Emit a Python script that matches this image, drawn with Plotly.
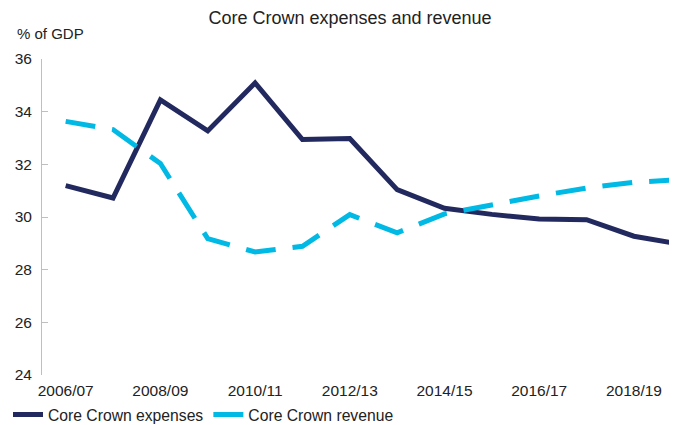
import plotly.graph_objects as go

years = ["2006/07", "2007/08", "2008/09", "2009/10", "2010/11", "2011/12", "2012/13",
         "2013/14", "2014/15", "2015/16", "2016/17", "2017/18", "2018/19", "2019/20"]
expenses = [31.19, 30.72, 34.45, 33.27, 35.09, 32.94, 32.98,
            31.04, 30.33, 30.10, 29.92, 29.90, 29.27, 28.96]
revenue = [33.63, 33.32, 32.03, 29.18, 28.67, 28.89, 30.09,
           29.40, 30.12, 30.48, 30.80, 31.10, 31.32, 31.42]
tick_labels = years[::2]

FONT = "Arial, 'Liberation Sans', sans-serif"
# page body has an 8px margin, so the figure is sized to the visible area
W, H = 669, 417
L, R, T, B = 34, 0, 51, 50
PW, PH = W - L - R, H - T - B

fig = go.Figure()
fig.add_trace(go.Scatter(
    x=years, y=expenses, mode="lines", name="Core Crown expenses",
    line=dict(color="#22295e", width=5),
))
fig.add_trace(go.Scatter(
    x=years, y=revenue, mode="lines", name="Core Crown revenue",
    line=dict(color="#00b9e4", width=5, dash="30px,17px"),
))

fig.update_layout(
    width=W, height=H,
    margin=dict(l=L, r=R, t=T, b=B, autoexpand=False),
    plot_bgcolor="white", paper_bgcolor="white",
    font=dict(family=FONT, size=15.5, color="#222222"),
    title=dict(
        text="Core Crown expenses and revenue",
        font=dict(size=18, color="#222222"),
        x=342 / W, xanchor="center", xref="container",
        y=1 - 3 / H, yanchor="top", yref="container",
        pad=dict(t=0, b=0),
    ),
    showlegend=True,
    legend=dict(
        orientation="h", xref="container", yref="container",
        x=-8.7 / W, xanchor="left",
        y=(H - 406.7) / H, yanchor="middle",
        font=dict(size=15.7, color="#222222"),
        bgcolor="rgba(0,0,0,0)", itemwidth=30,
    ),
    annotations=[dict(
        text="% of GDP", xref="paper", yref="paper",
        x=(7 - L) / PW, xanchor="left",
        y=1 + (T - 25) / PH, yanchor="middle",
        showarrow=False, font=dict(size=15, color="#222222"),
    )],
)

fig.update_xaxes(
    type="category", range=[-0.5, 12.91],
    tickmode="array", tickvals=tick_labels, ticktext=tick_labels,
    showline=False, showgrid=False, ticks="", zeroline=False,
    ticklabelstandoff=4, automargin=False,
)
fig.update_yaxes(
    range=[24, 36], dtick=2, tick0=24,
    showline=True, linecolor="#bfbfbf", linewidth=1,
    ticks="inside", ticklen=6, tickcolor="#bfbfbf", tickwidth=1,
    showgrid=False, zeroline=False, ticklabelstandoff=6, automargin=False,
)

fig.write_html("out.html")
